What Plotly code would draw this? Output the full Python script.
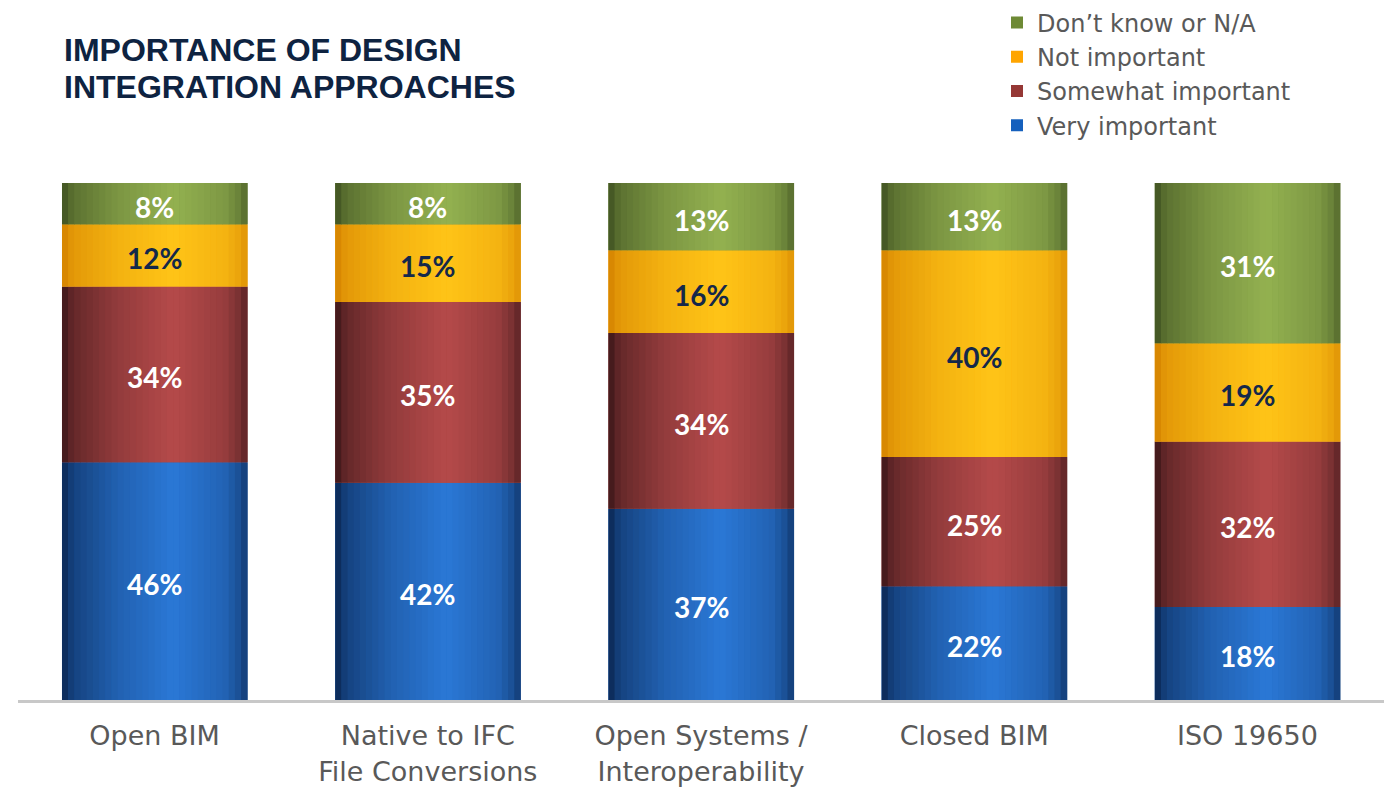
import plotly.graph_objects as go

categories = ["Open BIM", "Native to IFC<br>File Conversions", "Open Systems /<br>Interoperability",
              "Closed BIM", "ISO 19650"]
series_names = ["Very important", "Somewhat important", "Not important", "Don\u2019t know or N/A"]
very_important = [46, 42, 37, 22, 18]
somewhat_important = [34, 35, 34, 25, 32]
not_important = [12, 15, 16, 40, 19]
dont_know = [8, 8, 13, 13, 31]
series_values = [very_important, somewhat_important, not_important, dont_know]
title_lines = ["IMPORTANCE OF DESIGN", "INTEGRATION APPROACHES"]

# styles
mid_colors = ["#1560bd", "#953735", "#ffa500", "#6e8a35"]
dark_colors = ["#0a2550", "#3a1618", "#d48200", "#3e5020"]
bright_colors = ["#2a78d6", "#b54a4a", "#ffc417", "#93b150"]
label_colors = ["white", "white", "#14284a", "white"]

W, H = 1384, 790
BW = 0.678
N_STRIPS = 30
profile = [(0.0, 0.0), (0.06, 0.35), (0.3, 0.72), (0.6, 1.0), (0.88, 0.75), (0.96, 0.5), (1.0, 0.25)]


def hex2rgb(h):
    h = h.lstrip("#")
    return [int(h[i:i + 2], 16) for i in (0, 2, 4)]


def shade(t):
    for (t0, f0), (t1, f1) in zip(profile[:-1], profile[1:]):
        if t0 <= t <= t1:
            return f0 + (f1 - f0) * (t - t0) / (t1 - t0)
    return profile[-1][1]


def mix(c1, c2, f):
    a, b = hex2rgb(c1), hex2rgb(c2)
    return "rgb(%d,%d,%d)" % tuple(round(a[i] + (b[i] - a[i]) * f) for i in range(3))


fig = go.Figure()

bases = []
running = [0] * len(categories)
for vals in series_values:
    bases.append(list(running))
    running = [r + v for r, v in zip(running, vals)]

for s, vals in enumerate(series_values):
    # base layer (also legend entry)
    fig.add_trace(go.Bar(x=categories, y=vals, base=bases[s], width=BW, name=series_names[s],
                         marker=dict(color=mid_colors[s], line=dict(width=0)),
                         hoverinfo="skip", showlegend=True, legendgroup=series_names[s]))
    sw = BW / N_STRIPS
    for i in range(N_STRIPS):
        t = (i + 0.5) / N_STRIPS
        col = mix(dark_colors[s], bright_colors[s], shade(t))
        fig.add_trace(go.Bar(x=categories, y=vals, base=bases[s], width=sw * 1.08,
                             offset=-BW / 2 + i * sw, marker=dict(color=col, line=dict(width=0)),
                             hoverinfo="skip", showlegend=False, legendgroup=series_names[s]))

for s, vals in enumerate(series_values):
    for c, b, v in zip(categories, bases[s], vals):
        fig.add_annotation(x=c, y=b + v / 2, text="%d%%" % v, showarrow=False, yshift=-3,
                           font=dict(family="Lato", size=28, color=label_colors[s], weight="bold"))

PLOT_BOTTOM, PLOT_H, PLOT_L, PLOT_W = 700, 517, 18, 1366
for k, line in enumerate(title_lines):
    fig.add_annotation(text="<b>%s</b>" % line,
                       xref="paper", yref="paper", x=(62 - PLOT_L) / PLOT_W,
                       y=(PLOT_BOTTOM - (50 + 37 * k)) / PLOT_H,
                       xanchor="left", yanchor="middle", align="left", showarrow=False,
                       font=dict(family="Liberation Sans, Arial", size=32, color="#0e2341"))

fig.update_layout(
    width=W, height=H,
    margin=dict(l=PLOT_L, r=0, t=183, b=90),
    barmode="overlay",
    paper_bgcolor="white", plot_bgcolor="white",
    showlegend=True,
    legend=dict(x=(997 - PLOT_L) / PLOT_W, y=(PLOT_BOTTOM - 0.5) / PLOT_H,
                xanchor="left", yanchor="top",
                traceorder="reversed", font=dict(family="DejaVu Sans", size=24, color="#595959"),
                bgcolor="rgba(0,0,0,0)", itemclick=False, tracegroupgap=0),
    xaxis=dict(showline=True, linecolor="#c8c8c8", linewidth=3, ticks="", showgrid=False,
               tickfont=dict(family="DejaVu Sans", size=27, color="#595959"), tickangle=0,
               ticklabelstandoff=10, range=[-0.5, 4.5], automargin=False),
    yaxis=dict(visible=False, range=[0, 100], showgrid=False, automargin=False),
)

fig.write_html("out.html")
